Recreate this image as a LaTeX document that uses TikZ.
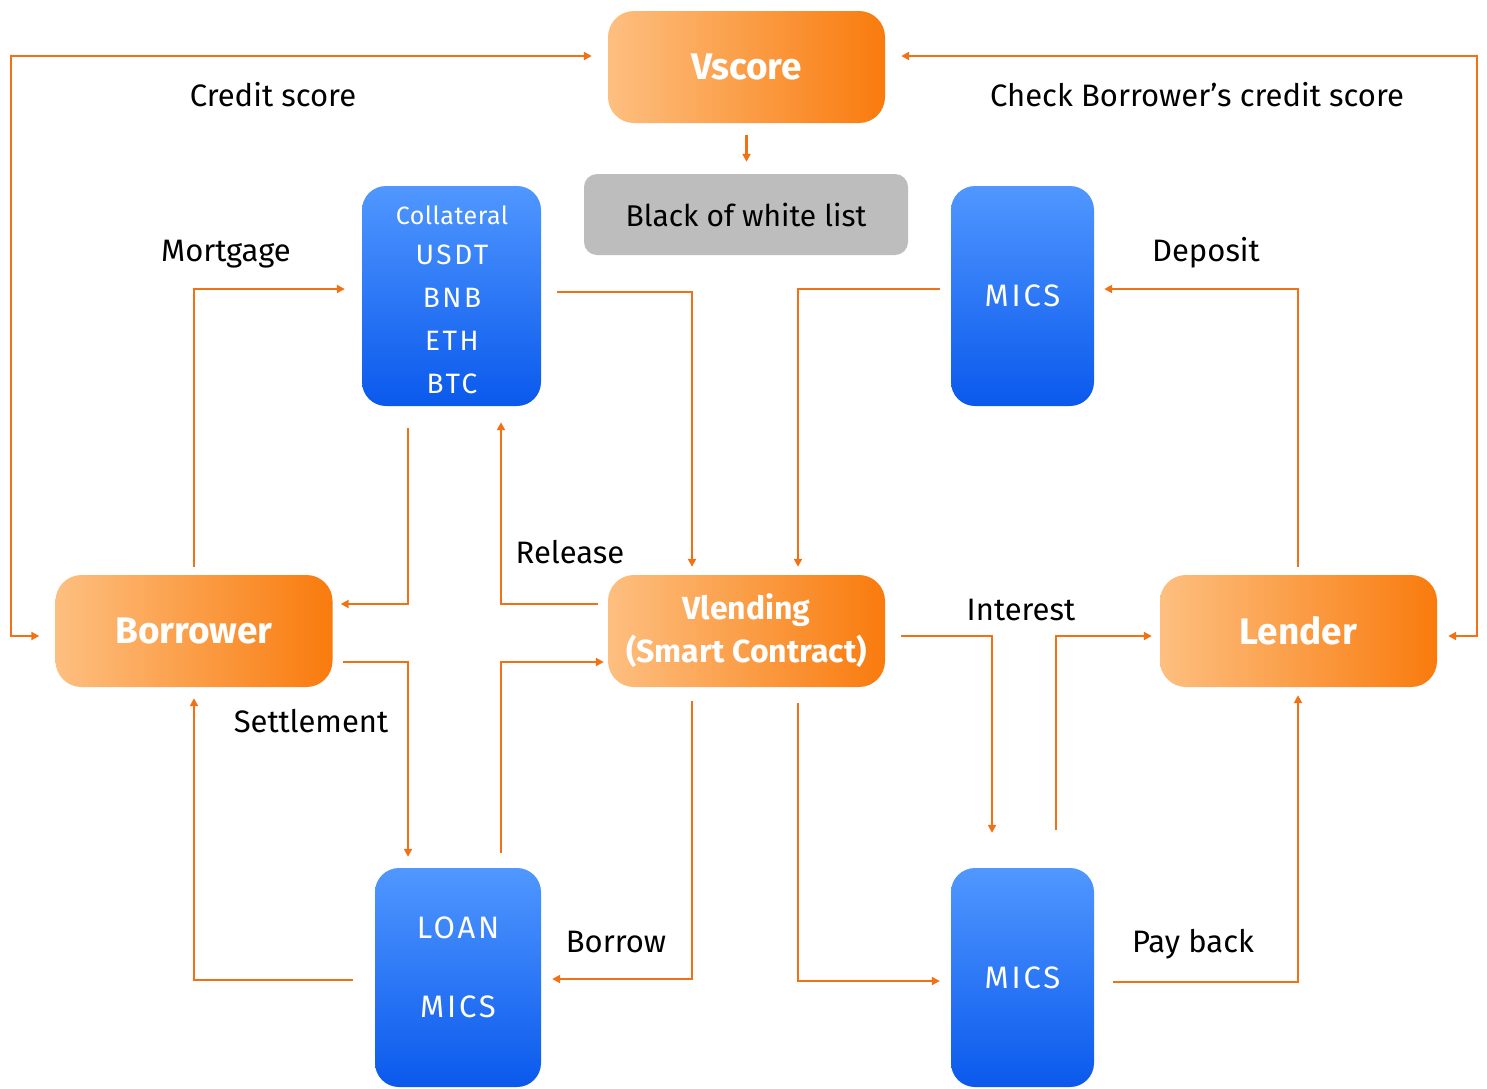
\documentclass[tikz,border=0pt]{standalone}
\usepackage{fontspec}
\setmainfont{Fira Sans}
\newfontfamily\spacedfont[LetterSpace=9]{Fira Sans}
\newfontfamily\lightspacedfont[LetterSpace=2]{Fira Sans}
\usetikzlibrary{arrows.meta,calc}
\definecolor{orL}{HTML}{FDBF80}
\definecolor{orR}{HTML}{F97B0D}
\definecolor{blT}{HTML}{5097FF}
\definecolor{blB}{HTML}{0A59EC}
\definecolor{lnc}{HTML}{F07214}
\definecolor{grc}{HTML}{BDBDBD}
\begin{document}
\begin{tikzpicture}[x=1pt,y=-1pt,
 obox/.style={rounded corners=26pt, left color=orL, right color=orR, draw=none,
   minimum width=277pt, minimum height=112pt, text=white, align=center, inner sep=0pt,
   font=\fontsize{37}{43}\selectfont\bfseries},
 bbox/.style={rounded corners=24pt, top color=blT, bottom color=blB, draw=none,
   text=white, align=center, inner sep=0pt, font=\spacedfont\fontsize{31}{34}\selectfont},
 btxt/.style={text=white, align=center, inner sep=0pt},
 conn/.style={draw=lnc, line width=2.3pt, -{Triangle[length=8pt,width=8pt]}},
 conn2/.style={draw=lnc, line width=2.3pt, {Triangle[length=8pt,width=8pt]}-{Triangle[length=8pt,width=8pt]}},
 lbl/.style={font=\fontsize{31}{34}\selectfont, text=black, inner sep=0pt}
]
\clip (0,0) rectangle (1487,1088);
\fill[white] (0,0) rectangle (1487,1088);

% nodes
\node[obox] (vscore) at (746.5,67) {Vscore};
\node[rounded corners=13pt, fill=grc, minimum width=324pt, minimum height=81pt, inner sep=0pt,
  font=\fontsize{30}{34}\selectfont] (list) at (746,214.5) {Black of white list};
\node[bbox, minimum width=179pt, minimum height=220pt] (coll) at (451.5,296) {};
\node[btxt, font=\lightspacedfont\fontsize{25}{28}\selectfont] (colltxt) at (452,215) {Collateral};
\node[btxt, font=\spacedfont\fontsize{28}{43}\selectfont, anchor=north] (coinstxt) at (452,245) {USDT\\BNB\\ETH\\BTC};
\node[bbox, minimum width=143pt, minimum height=220pt] (micsT) at (1022.5,296) {MICS};
\node[obox] (borrower) at (194,631) {Borrower};
\node[obox, font=\fontsize{32}{43}\selectfont\bfseries] (vlend) at (746.5,631) {Vlending\\(Smart Contract)};
\node[obox] (lender) at (1298.5,631) {Lender};
\node[bbox, minimum width=166pt, minimum height=219pt] (loan) at (458,977.5) {};
\node[btxt, font=\spacedfont\fontsize{31}{34}\selectfont] (loantxt) at (458,928) {LOAN};
\node[btxt, font=\spacedfont\fontsize{31}{34}\selectfont] (loanmics) at (458,1007) {MICS};
\node[bbox, minimum width=143pt, minimum height=219pt] (micsB) at (1022.5,977.5) {MICS};

% labels
\node[lbl] (lcs) at (273,95) {Credit score};
\node[lbl] (lcb) at (1197,95) {Check Borrower’s credit score};
\node[lbl] (lmort) at (226,254) {Mortgage};
\node[lbl] (ldep) at (1206,253) {Deposit};
\node[lbl] (lrel) at (570,552) {Release};
\node[lbl] (lint) at (1021,610) {Interest};
\node[lbl] (lset) at (311,721) {Settlement};
\node[lbl] (lbor) at (616,942) {Borrow};
\node[lbl] (lpay) at (1193,944) {Pay back};

% helper coordinates
\coordinate (lx) at (11,0);
\coordinate (rx) at (1477,0);

% long side connectors
\coordinate (cs1) at ($(borrower.west)+(-16,5)$);
\coordinate (cs2) at ($(vscore.west)+(-16,-11)$);
\draw[conn2] (cs1) -- (cs1 -| lx) -- (cs2 -| lx) -- (cs2);
\coordinate (cb1) at ($(lender.east)+(11,5)$);
\coordinate (cb2) at ($(vscore.east)+(16,-11)$);
\draw[conn2] (cb1) -- (cb1 -| rx) -- (cb2 -| rx) -- (cb2);

% vscore to list
\draw[conn] ($(vscore.south)+(0,12)$) -- ($(list.north)+(0.5,-12)$);

% mortgage
\draw[conn] ($(borrower.north)+(0,-8)$) |- ($(coll.west)+(-17,-7)$);
% collateral to vlending
\draw[conn] ($(coll.east)+(16,-4)$) -| ($(vlend.north)+(-54.5,-8)$);
% collateral to borrower
\draw[conn] ($(coll.south)+(-43.5,22)$) |- ($(borrower.east)+(8,-27)$);
% release
\draw[conn] ($(vlend.west)+(-10,-27)$) -| ($(coll.south)+(49.5,16)$);
% mics top to vlending
\draw[conn] ($(micsT.west)+(-11,-7)$) -| ($(vlend.north)+(51.5,-8)$);
% deposit
\draw[conn] ($(lender.north)+(-0.5,-8)$) |- ($(micsT.east)+(10,-7)$);
% settlement
\draw[conn] ($(borrower.east)+(10,31)$) -| ($(loan.north)+(-50,-11)$);
% loan to vlending
\draw[conn] ($(loan.north)+(43,-15)$) |- ($(vlend.west)+(-4,31)$);
% borrow
\draw[conn] ($(vlend.south)+(-54.5,14)$) |- ($(loan.east)+(11,1.5)$);
% loan to borrower
\draw[conn] ($(loan.west)+(-22,2.5)$) -| ($(borrower.south)+(0,11)$);
% vlending to mics bottom
\draw[conn] ($(vlend.south)+(51.5,16)$) |- ($(micsB.west)+(-11,3.5)$);
% interest
\draw[conn] ($(vlend.east)+(16,5)$) -| ($(micsB.north)+(-30.5,-35)$);
\draw[conn] ($(micsB.north)+(33.5,-38)$) |- ($(lender.west)+(-8,5)$);
% pay back
\draw[conn] ($(micsB.east)+(19,4.5)$) -| ($(lender.south)+(-0.5,8)$);
\end{tikzpicture}
\end{document}
